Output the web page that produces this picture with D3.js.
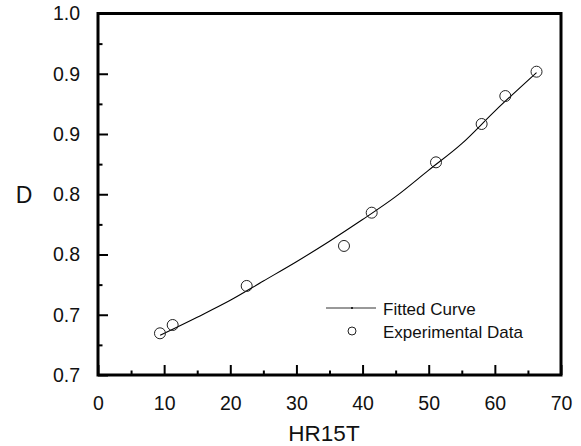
<!DOCTYPE html>
<html>
<head>
<meta charset="utf-8">
<script src="https://cdn.jsdelivr.net/npm/d3@7"></script>
<style>
  body { margin: 0; background: #fff; }
  svg { display: block; font-family: "Liberation Sans", Arial, sans-serif; }
</style>
</head>
<body>
<svg width="581" height="446"></svg>
<script>
// experimental points
const expX = [9.37, 11.29, 22.48, 37.19, 41.38, 51.1, 58.0, 61.58, 66.3];
const expD = [0.7346, 0.7415, 0.7739, 0.8071, 0.8347, 0.8765, 0.9083, 0.9315, 0.9517];

// fitted curve, sampled along the drawn line
const fitX = [9.4, 15, 20, 25, 30, 35, 40, 45, 50, 55, 60, 66.3];
const fitD = [0.733, 0.748, 0.762, 0.778, 0.794, 0.811, 0.829, 0.848, 0.870, 0.892, 0.919, 0.951];

const xTicks = [0, 10, 20, 30, 40, 50, 60, 70];
const xMinor = [5, 15, 25, 35, 45, 55, 65];
const yTicks = [0.7, 0.75, 0.8, 0.85, 0.9, 0.95, 1.0];
const yLabels = ["0.7", "0.7", "0.8", "0.8", "0.9", "0.9", "1.0"];
const yMinor = [0.725, 0.775, 0.825, 0.875, 0.925, 0.975];

const svg = d3.select("svg");

const plotLeft = 98, plotRight = 561, plotTop = 13.5, plotBottom = 375;

const x = d3.scaleLinear().domain([0, 70]).range([plotLeft, plotRight]);
const y = d3.scaleLinear().domain([0.7, 1.0]).range([plotBottom, plotTop]);

// minor ticks
svg.append("g")
    .attr("transform", "translate(0," + plotBottom + ")")
    .call(d3.axisBottom(x).tickValues(xMinor).tickSize(-4.5).tickFormat(""))
    .call(g => g.select(".domain").remove())
    .call(g => g.selectAll("line").attr("stroke", "#000").attr("stroke-width", 2));

svg.append("g")
    .attr("transform", "translate(" + plotLeft + ",0)")
    .call(d3.axisLeft(y).tickValues(yMinor).tickSize(-4.5).tickFormat(""))
    .call(g => g.select(".domain").remove())
    .call(g => g.selectAll("line").attr("stroke", "#000").attr("stroke-width", 2));

// major ticks + labels
svg.append("g")
    .attr("transform", "translate(0," + plotBottom + ")")
    .call(d3.axisBottom(x).tickValues(xTicks).tickSize(-10).tickPadding(21).tickFormat(d => d))
    .call(g => g.select(".domain").remove())
    .call(g => g.selectAll("line").attr("stroke", "#000").attr("stroke-width", 2))
    .call(g => g.selectAll("text").attr("fill", "#111").style("font-size", "19.5px")
        .style("font-family", "Liberation Sans, Arial, sans-serif"));

svg.append("g")
    .attr("transform", "translate(" + plotLeft + ",0)")
    .call(d3.axisLeft(y).tickValues(yTicks).tickSize(-10).tickPadding(18)
        .tickFormat((d, i) => yLabels[i]))
    .call(g => g.select(".domain").remove())
    .call(g => g.selectAll("line").attr("stroke", "#000").attr("stroke-width", 2))
    .call(g => g.selectAll("text").attr("fill", "#111").style("font-size", "19.5px")
        .style("font-family", "Liberation Sans, Arial, sans-serif"));

// frame
svg.append("rect")
    .attr("x", plotLeft).attr("y", plotTop)
    .attr("width", plotRight - plotLeft).attr("height", plotBottom - plotTop)
    .attr("fill", "none").attr("stroke", "#000").attr("stroke-width", 3);

// fitted curve
const line = d3.line()
    .x((d, i) => x(fitX[i]))
    .y(d => y(d))
    .curve(d3.curveMonotoneX);

svg.append("path")
    .datum(fitD)
    .attr("d", line)
    .attr("fill", "none")
    .attr("stroke", "#000")
    .attr("stroke-width", 1.1);

// experimental data
svg.append("g").selectAll("circle")
    .data(expD)
    .join("circle")
    .attr("cx", (d, i) => x(expX[i]))
    .attr("cy", d => y(d))
    .attr("r", 5.5)
    .attr("fill", "none")
    .attr("stroke", "#222")
    .attr("stroke-width", 1);

// legend
const lg = svg.append("g");
lg.append("line")
    .attr("x1", 326).attr("x2", 376).attr("y1", 308).attr("y2", 308)
    .attr("stroke", "#333").attr("stroke-width", 1);
lg.append("circle").attr("cx", 352).attr("cy", 308).attr("r", 1).attr("fill", "#000");
lg.append("text").attr("x", 383).attr("y", 314.5)
    .style("font-size", "17px").attr("fill", "#111").text("Fitted Curve");
lg.append("circle")
    .attr("cx", 352).attr("cy", 331).attr("r", 4)
    .attr("fill", "none").attr("stroke", "#222").attr("stroke-width", 1);
lg.append("text").attr("x", 383).attr("y", 337.5)
    .style("font-size", "17px").attr("fill", "#111").text("Experimental Data");

// axis titles
svg.append("text")
    .attr("x", 324).attr("y", 440.5)
    .attr("text-anchor", "middle")
    .style("font-size", "22.5px").attr("fill", "#111")
    .text("HR15T");

svg.append("text")
    .attr("x", 24).attr("y", 203)
    .attr("text-anchor", "middle")
    .style("font-size", "23px").attr("fill", "#111")
    .text("D");
</script>
</body>
</html>
